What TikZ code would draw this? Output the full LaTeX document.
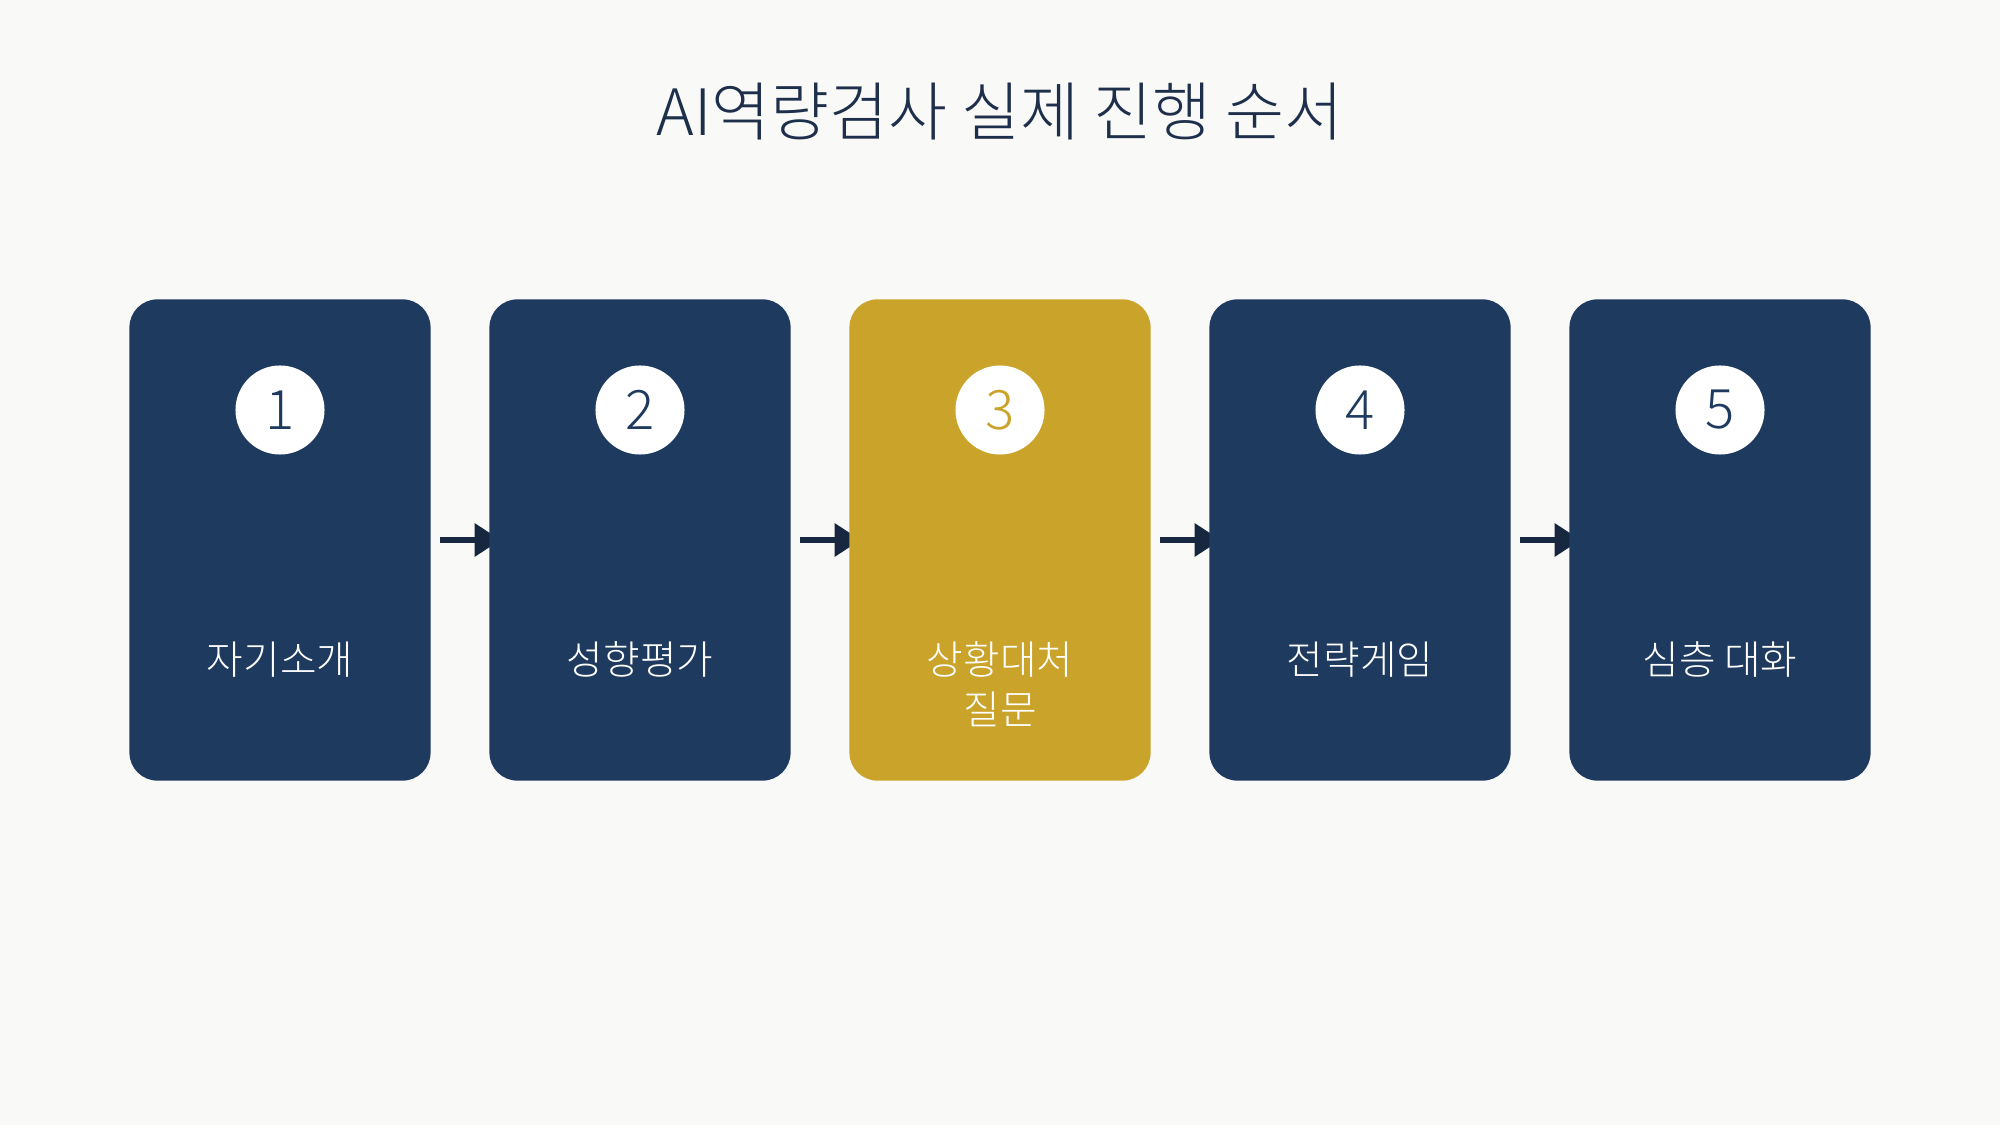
\documentclass[tikz,border=0pt]{standalone}
\usepackage{fontspec}
\newfontfamily\cjk{Noto Sans CJK KR Light}
\usetikzlibrary{arrows.meta,backgrounds}
\definecolor{bgpaper}{HTML}{F9F9F7}
\definecolor{navy}{HTML}{1F3A5F}
\definecolor{gold}{HTML}{C9A32A}
\definecolor{arrownavy}{HTML}{16273F}
\definecolor{titlenavy}{HTML}{1E2F4B}
\tikzset{>=Triangle}
\tikzset{
  stepcard/.style={draw=none, fill=#1, rounded corners=0.28cm,
    minimum width=3.01cm, minimum height=4.81cm, inner sep=0pt},
  numdot/.style={circle, fill=white, minimum size=0.89cm, inner sep=0pt,
    text=#1, font=\cjk\fontsize{15.5}{18}\selectfont},
  cardtext/.style={text=white, align=center, anchor=north, inner sep=0pt,
    font=\cjk\fontsize{11.3}{14.2}\selectfont},
  flow/.style={->, draw=arrownavy, line width=0.06cm,
    -{Triangle[length=0.26cm,width=0.32cm]}}
}

\begin{document}
\begin{tikzpicture}[x=0.01cm,y=-0.01cm]
    \useasboundingbox (0,0) rectangle (2000,1125);

    % title
    \node[text=titlenavy, font=\cjk\fontsize{18.2}{22}\selectfont] (title) at (1000,112) {AI역량검사 실제 진행 순서};

    % cards
    \node[stepcard=navy] (c1) at (280,540) {};
    \node[stepcard=navy] (c2) at (640,540) {};
    \node[stepcard=gold] (c3) at (1000,540) {};
    \node[stepcard=navy] (c4) at (1360,540) {};
    \node[stepcard=navy] (c5) at (1720,540) {};

    % numbers
    \node[numdot=navy] (n1) at (280,410) {1};
    \node[numdot=navy] (n2) at (640,410) {2};
    \node[numdot=gold] (n3) at (1000,410) {3};
    \node[numdot=navy] (n4) at (1360,410) {4};
    \node[numdot=navy] (n5) at (1720,410) {5};

    % labels
    \node[cardtext] (t1) at (280,641) {자기소개};
    \node[cardtext] (t2) at (640,641) {성향평가};
    \node[cardtext] (t3) at (1000,641) {상황대처\\질문};
    \node[cardtext] (t4) at (1360,641) {전략게임};
    \node[cardtext] (t5) at (1720,641) {심층 대화};

    % arrows behind the cards
    \begin{scope}[on background layer]
        \fill[bgpaper] (0,0) rectangle (2000,1125);
        \foreach \a/\b in {c1/c2,c2/c3,c3/c4,c4/c5}
            \draw[flow] ([xshift=0.09cm]\a.east) -- ([xshift=0.12cm]\b.west);
    \end{scope}
\end{tikzpicture}
\end{document}
